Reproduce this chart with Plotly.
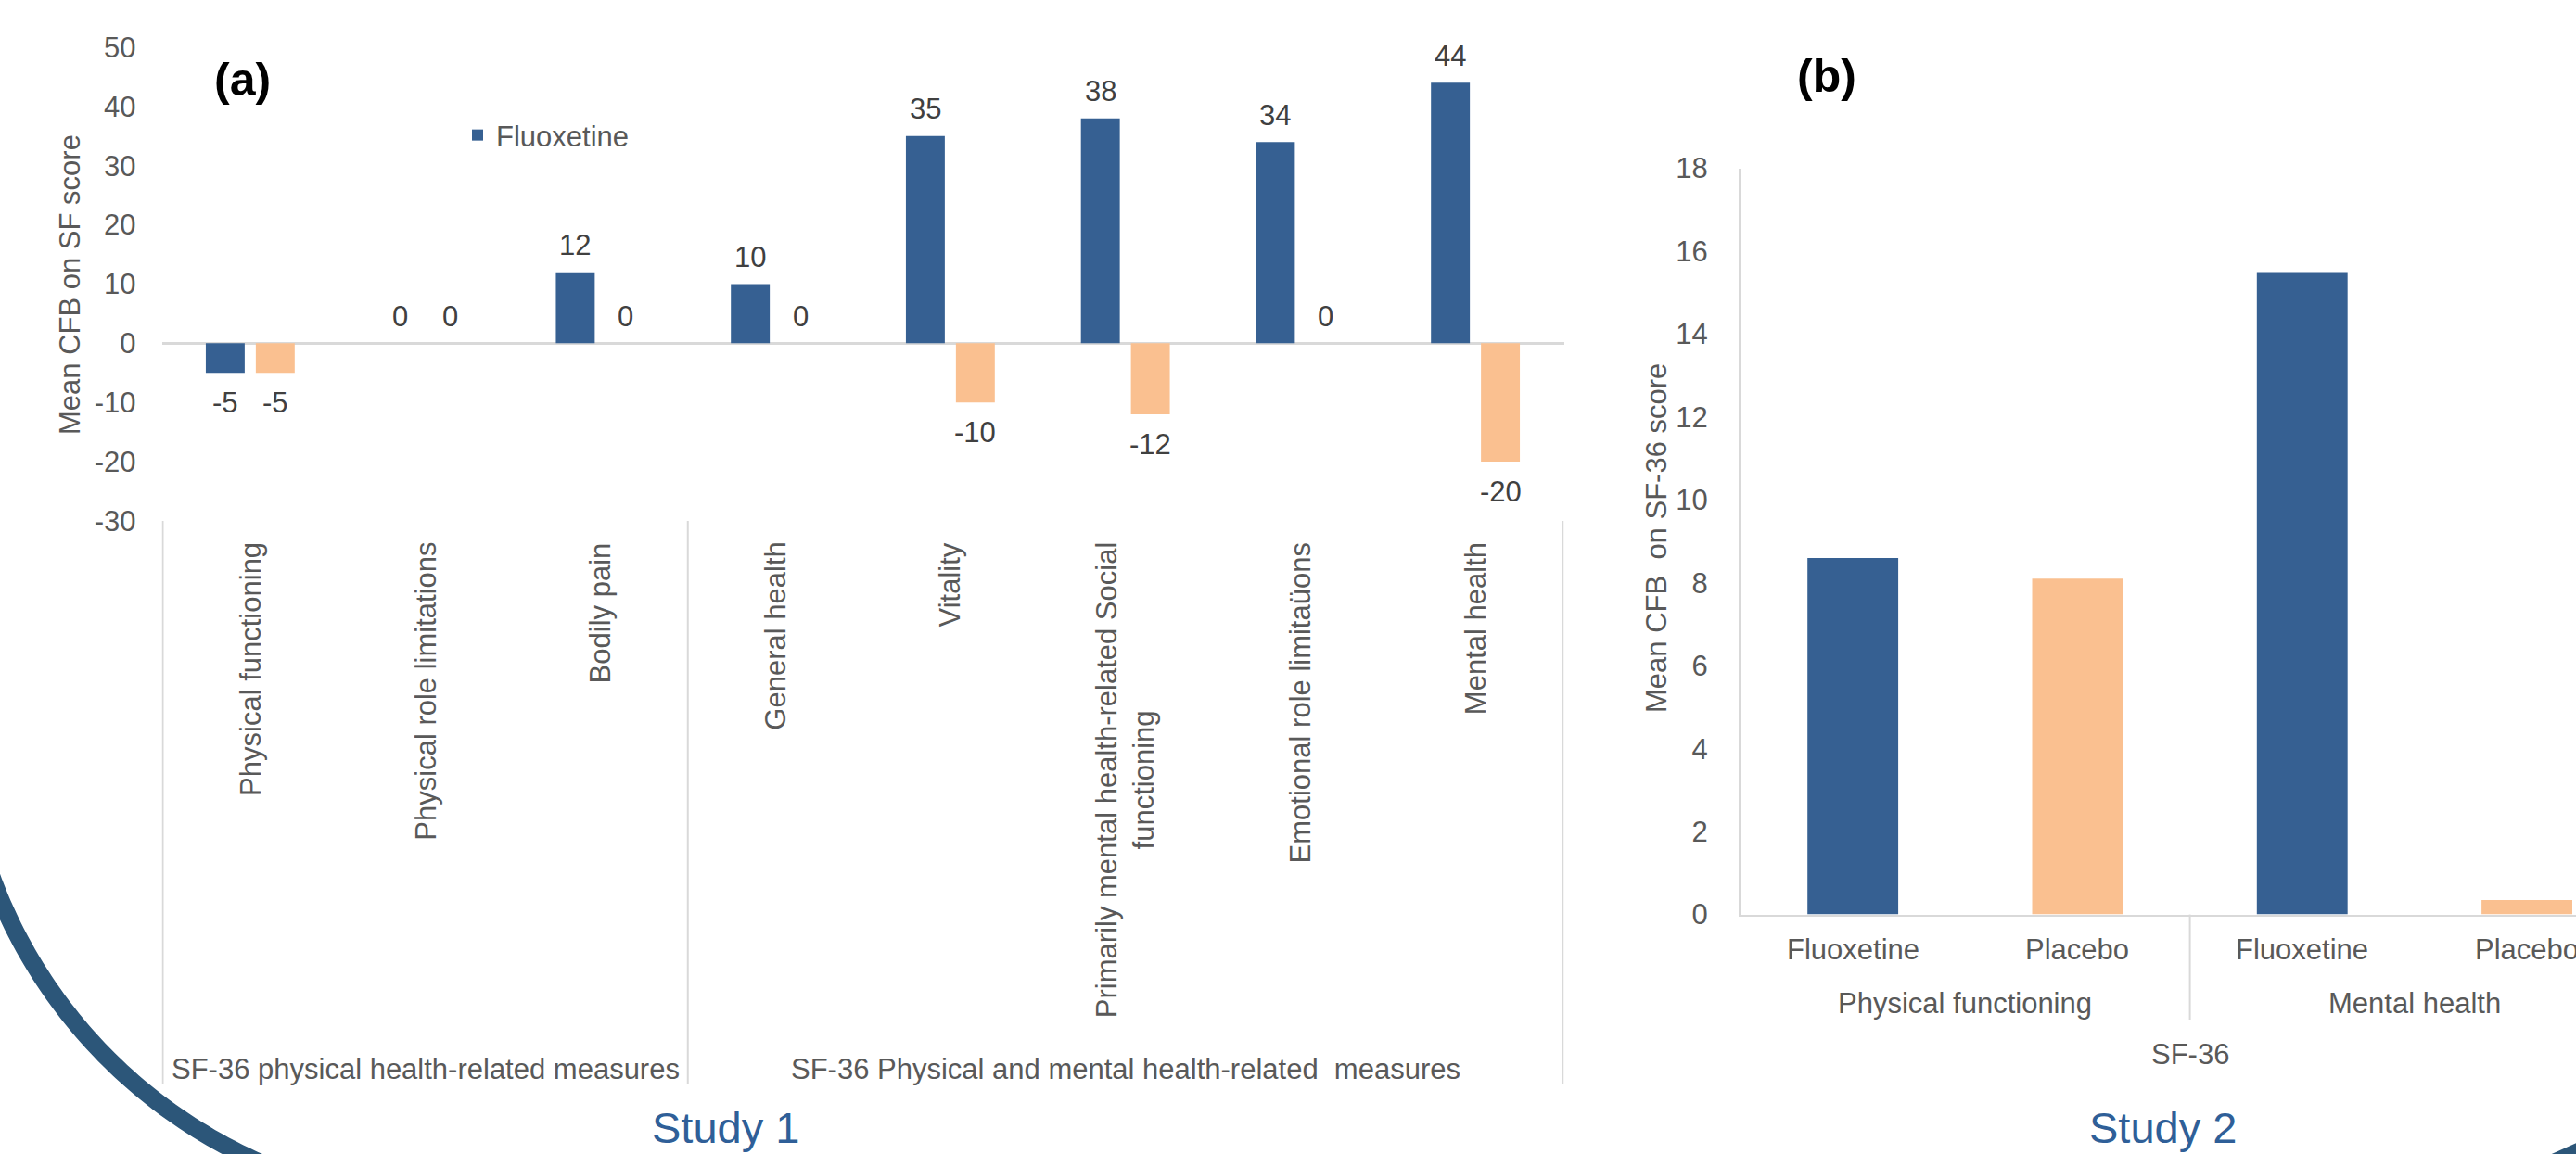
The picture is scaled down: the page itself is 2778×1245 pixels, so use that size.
import textwrap
import numpy as np
import plotly.graph_objects as go

W, H = 2778, 1245

# ---- Study 1: mean change from baseline on SF-36 domains ----
measures = [
    "Physical functioning",
    "Physical role limitations",
    "Bodily pain",
    "General health",
    "Vitality",
    "Primarily mental health-related Social functioning",
    "Emotional role limitaüons",
    "Mental health",
]
fluoxetine_a = [-5, 0, 12, 10, 35, 38, 34, 44]
placebo_a = [-5, 0, 0, 0, -10, -12, 0, -20]
groups_a = ["SF-36 physical health-related measures",
            "SF-36 Physical and mental health-related\u00a0 measures"]
group_sizes_a = [3, 5]
yticks_a = list(range(-30, 51, 10))

# ---- Study 2: mean change from baseline on SF-36 ----
arms_b = ["Fluoxetine", "Placebo", "Fluoxetine", "Placebo"]
domains_b = ["Physical functioning", "Mental health"]
instrument_b = "SF-36"
values_b = [8.6, 8.1, 15.5, 0.35]
yticks_b = list(range(0, 19, 2))

BLUE = "#366092"
PEACH = "#FAC090"
GREY_TXT = "#595959"
LABEL_TXT = "#404040"
RULE = "#D9D9D9"
STUDY_BLUE = "#2F5F98"
ARC = "#2C5679"
FONT = "Liberation Sans, Arial, sans-serif"


def px(x):
    return x / W


def py(y):
    return 1 - y / H


# plot-area geometry (pixels)
A_LEFT, A_RIGHT, A_TOP, A_BOTTOM = 174.5, 1686.5, 51, 562
B_LEFT, B_TOP, B_BOTTOM = 1877, 181.6, 986.6
B_CAT = 242.3  # width of one category slot in panel b

fig = go.Figure()

fig.add_trace(go.Bar(
    x=measures, y=fluoxetine_a, name="Fluoxetine",
    marker=dict(color=BLUE, line=dict(width=0)),
    xaxis="x", yaxis="y", showlegend=True,
))
fig.add_trace(go.Bar(
    x=measures, y=placebo_a, name="Placebo",
    marker=dict(color=PEACH, line=dict(width=0)),
    xaxis="x", yaxis="y", showlegend=False,
))
fig.add_trace(go.Bar(
    x=list(range(len(values_b))), y=values_b,
    marker=dict(color=[BLUE if a == "Fluoxetine" else PEACH for a in arms_b], line=dict(width=0)),
    width=0.404, offset=-0.202,
    xaxis="x2", yaxis="y2", showlegend=False,
))

annotations = []
shapes = []


def note(text, x, y, xref="paper", yref="paper", size=31, color=GREY_TXT,
         xanchor="center", yanchor="middle", **kw):
    annotations.append(dict(text=text, x=x, y=y, xref=xref, yref=yref, showarrow=False,
                            xanchor=xanchor, yanchor=yanchor,
                            font=dict(family=FONT, size=size, color=color), **kw))


# value labels for panel a
for i, m in enumerate(measures):
    for vals, shift in ((fluoxetine_a, -27), (placebo_a, 27)):
        v = vals[i]
        note(f"{v:g}", m, v, xref="x", yref="y", color=LABEL_TXT,
             xshift=shift, yshift=29 if v >= 0 else -32)

# rotated category labels for panel a
for m in measures:
    txt = "<br>".join(textwrap.wrap(m, 38))
    note(txt, m, py(583), xref="x", textangle=-90, yanchor="top", align="center")

# group labels and separators for panel a
start = 0
bounds = [-0.5]
for g, n in zip(groups_a, group_sizes_a):
    note(g, start + n / 2 - 0.5, py(1153), xref="x")
    start += n
    bounds.append(start - 0.5)
for b in bounds:
    shapes.append(dict(type="line", xref="x", yref="paper", x0=b, x1=b,
                       y0=py(A_BOTTOM), y1=py(1170), line=dict(color=RULE, width=2)))

# panel b category labels (three levels)
for i, a in enumerate(arms_b):
    note(a, i, py(1024), xref="x2")
for j, d in enumerate(domains_b):
    note(d, 2 * j + 0.5, py(1082), xref="x2")
note(instrument_b, 1.5, py(1137), xref="x2")
shapes.append(dict(type="line", xref="x2", yref="paper", x0=1.5, x1=1.5,
                   y0=py(B_BOTTOM), y1=py(1100), line=dict(color=RULE, width=2)))
shapes.append(dict(type="line", xref="x2", yref="paper", x0=-0.5, x1=-0.5,
                   y0=py(B_BOTTOM), y1=py(1157), line=dict(color=RULE, width=2)))

# axis titles, panel tags and study captions
note("Mean CFB on SF score", px(75), py(307), textangle=-90)
note("Mean CFB\u00a0 on SF-36 score", px(1786), py(581), textangle=-90)
note("<b>(a)</b>", px(261), py(86), size=50, color="#000000")
note("<b>(b)</b>", px(1970), py(82), size=50, color="#000000")
note("Study 1", px(782), py(1245), size=47, color=STUDY_BLUE, yanchor="bottom")
note("Study 2", px(2332), py(1245), size=47, color=STUDY_BLUE, yanchor="bottom")

# decorative corner arcs
t = np.radians(np.linspace(100, 172, 80))
cx, cy, R = 498, 760, 540
ax_ = cx + R * np.cos(t)
ay_ = cy + R * np.sin(t)
path = "M " + " L ".join(f"{px(xx):.5f},{py(yy):.5f}" for xx, yy in zip(ax_, ay_))
shapes.append(dict(type="path", xref="paper", yref="paper", path=path,
                   line=dict(color=ARC, width=19)))
corner = [(2751.7, 1245), (2778, 1233.3), (2800, 1226), (2800, 1270), (2740, 1270)]
path2 = "M " + " L ".join(f"{px(xx):.5f},{py(yy):.5f}" for xx, yy in corner) + " Z"
shapes.append(dict(type="path", xref="paper", yref="paper", path=path2,
                   fillcolor=ARC, line=dict(width=0)))

fig.update_layout(
    width=W, height=H, autosize=False,
    margin=dict(l=0, r=0, t=0, b=0, pad=0, autoexpand=False),
    paper_bgcolor="white", plot_bgcolor="white",
    font=dict(family=FONT, size=31, color=GREY_TXT),
    barmode="group", bargap=0.4286, bargroupgap=0.2222,
    xaxis=dict(domain=[px(A_LEFT), px(A_RIGHT)], type="category", anchor="y", automargin=False,
               showticklabels=False, showgrid=False, zeroline=False, showline=False, ticks=""),
    yaxis=dict(domain=[py(A_BOTTOM), py(A_TOP)], range=[-30, 50], anchor="x", automargin=False,
               tickvals=yticks_a, ticktext=[str(v) for v in yticks_a],
               showgrid=False, showline=False, ticks="",
               zeroline=True, zerolinecolor=RULE, zerolinewidth=2.5,
               ticklabelstandoff=27, tickfont=dict(size=31, color=GREY_TXT)),
    xaxis2=dict(domain=[px(B_LEFT), 1.0], range=[-0.5, -0.5 + (W - B_LEFT) / B_CAT], anchor="y2",
                automargin=False,
                showticklabels=False, showgrid=False, zeroline=False, ticks="",
                showline=True, linecolor=RULE, linewidth=2),
    yaxis2=dict(domain=[py(B_BOTTOM), py(B_TOP)], range=[0, 18], anchor="x2", automargin=False,
                tickvals=yticks_b, ticktext=[str(v) for v in yticks_b],
                showgrid=False, zeroline=False, ticks="",
                showline=True, linecolor=RULE, linewidth=2,
                ticklabelstandoff=27, tickfont=dict(size=31, color=GREY_TXT)),
    legend=dict(x=px(495), y=py(146), xanchor="left", yanchor="middle",
                bgcolor="rgba(0,0,0,0)", font=dict(size=31, color=GREY_TXT)),
    annotations=annotations,
    shapes=shapes,
)

fig.write_html("out.html")
